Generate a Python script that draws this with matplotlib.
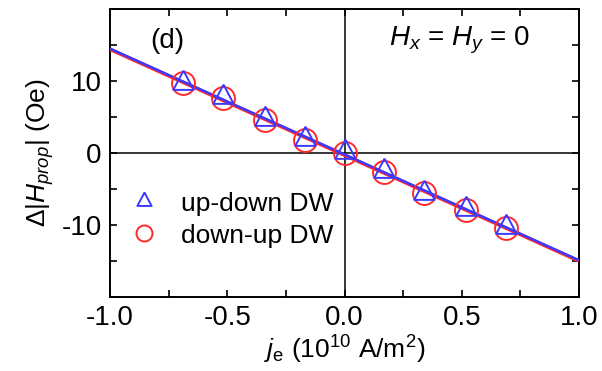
"""Domain-wall propagation field shift versus current density."""

import matplotlib

matplotlib.use("Agg")
import numpy as np
from matplotlib import pyplot as plt
from matplotlib.ticker import MultipleLocator

# current density (10^10 A/m^2)
current_density = [-0.69, -0.52, -0.34, -0.17, 0.0, 0.17, 0.34, 0.52, 0.69]
# shift of the propagation field (Oe)
shift_up_down = [9.8, 7.8, 4.7, 1.9, 0.1, -2.5, -5.5, -7.8, -10.3]
shift_down_up = [9.7, 7.7, 4.6, 1.8, 0.0, -2.6, -5.6, -7.9, -10.4]

BLUE = "#3a3aff"
RED = "#ff2a2a"

# triangle centred on its centroid, slightly flatter than equilateral
TRIANGLE = [(0.0, 14.5), (-11.5, -7.2), (11.5, -7.2), (0.0, 14.5)]

plt.rcParams["font.family"] = ["Liberation Sans", "DejaVu Sans"]
plt.rcParams["mathtext.fontset"] = "custom"
plt.rcParams["mathtext.rm"] = "Liberation Sans"
plt.rcParams["mathtext.it"] = "Liberation Sans:italic"
plt.rcParams["axes.unicode_minus"] = False

fig = plt.figure(figsize=(6.02, 3.71), dpi=100)
ax = fig.add_axes([0.183, 0.1995, 0.7788, 0.776])

x = np.array(current_density)
x_fit = np.array([-1.0, 1.0])
for y_vals, color, lw in ((shift_down_up, RED, 2.6), (shift_up_down, BLUE, 1.8)):
    slope, intercept = np.polyfit(x, np.array(y_vals), 1)
    ax.plot(x_fit, intercept + slope * x_fit, color=color, lw=lw, zorder=3,
            solid_capstyle="butt")

ax.plot(x, shift_down_up, "o", ms=16.5, mfc="none", mec=RED, mew=1.4, zorder=4,
        label="down-up DW")
ax.plot(x, shift_up_down, marker=TRIANGLE, ls="none", ms=18.5, mfc="none",
        mec=BLUE, mew=1.4, zorder=5, label="up-down DW")

ax.axhline(0, color="black", lw=1.1, zorder=2)
ax.axvline(0, color="black", lw=1.1, zorder=2)

ax.set_xlim(-1.0, 1.0)
ax.set_ylim(-20, 20)
ax.xaxis.set_major_locator(MultipleLocator(0.5))
ax.xaxis.set_minor_locator(MultipleLocator(0.25))
ax.yaxis.set_major_locator(MultipleLocator(10))
ax.yaxis.set_minor_locator(MultipleLocator(5))
ax.set_yticks([-10, 0, 10])
ax.tick_params(which="both", direction="in", top=True, right=True,
               labelsize=20, width=1.2, pad=6)
ax.tick_params(which="major", length=5)
ax.tick_params(which="minor", length=5)
for spine in ax.spines.values():
    spine.set_linewidth(1.4)

ax.set_xlabel(r"$j_{\mathrm{e}}$ (10$^{10}$ A/m$^{2}$)", fontsize=19, labelpad=2)
ax.set_ylabel(r"$\Delta|H_{prop}|$ (Oe)", fontsize=19, labelpad=4)

ax.text(-0.83, 15.6, "(d)", fontsize=20, ha="left", va="center")
ax.text(0.49, 15.6, r"$H_x$ = $H_y$ = 0", fontsize=20, ha="center", va="center")

handles, labels = ax.get_legend_handles_labels()
ax.legend(handles[::-1], labels[::-1], loc="upper left",
          bbox_to_anchor=(0.0, 0.43), frameon=False, fontsize=19,
          markerscale=0.7, handlelength=1.2, handletextpad=0.8,
          labelspacing=0.3, borderaxespad=0.3)

fig.savefig("out.png", dpi=100, facecolor="white")
